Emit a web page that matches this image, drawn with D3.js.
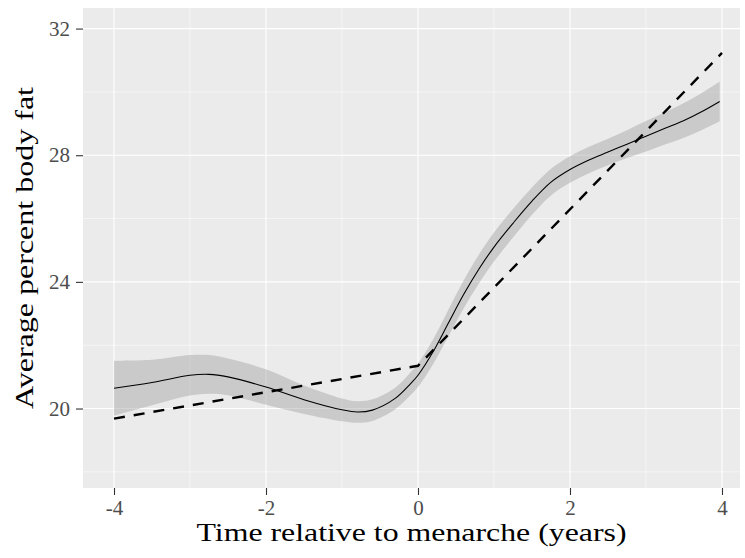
<!DOCTYPE html>
<html>
<head>
<meta charset="utf-8">
<script src="https://cdn.jsdelivr.net/npm/d3@7"></script>
<style>
  html, body { margin: 0; padding: 0; background: #fff; }
  svg { display: block; }
</style>
</head>
<body>
<svg id="chart" width="745" height="558"></svg>
<script>
// ---- data ----
const smoothT   = [-4, -3.5, -3, -2.75, -2.5, -2, -1.5, -1.0, -0.8, -0.6, -0.3, -0.1, 0, 0.2, 0.4, 0.6, 0.8, 1.0, 1.25, 1.5, 1.75, 2.0, 2.25, 2.5, 2.75, 3.0, 3.25, 3.5, 3.75, 3.97];
const smoothFit = [20.64, 20.82, 21.05, 21.08, 21.0, 20.68, 20.28, 19.96, 19.89, 19.95, 20.32, 20.78, 21.05, 21.8, 22.7, 23.6, 24.4, 25.1, 25.85, 26.55, 27.15, 27.55, 27.85, 28.1, 28.35, 28.6, 28.85, 29.1, 29.4, 29.7];
const halfWidth = [0.87, 0.72, 0.64, 0.61, 0.58, 0.56, 0.45, 0.36, 0.34, 0.34, 0.34, 0.36, 0.37, 0.39, 0.42, 0.44, 0.46, 0.46, 0.45, 0.43, 0.42, 0.42, 0.42, 0.42, 0.44, 0.48, 0.51, 0.55, 0.59, 0.63];
const pieceT    = [-4, 0, 4];
const pieceFit  = [19.68, 21.35, 31.23];
const xTicks    = [-4, -2, 0, 2, 4];
const xMinor    = [-3, -1, 1, 3];
const yTicks    = [20, 24, 28, 32];
const yMinor    = [18, 22, 26, 30];
const xTitle    = "Time relative to menarche (years)";
const yTitle    = "Average percent body fat";

// ---- layout ----
const svg = d3.select("#chart");
const P = { left: 83, right: 740, top: 8, bottom: 488 };
const x = d3.scaleLinear().domain([-4.408, 4.237]).range([P.left, P.right]);
const y = d3.scaleLinear().domain([17.49, 32.65]).range([P.bottom, P.top]);
const FONT = "'Liberation Serif', 'DejaVu Serif', serif";

svg.append("rect").attr("x", P.left).attr("y", P.top)
  .attr("width", P.right - P.left).attr("height", P.bottom - P.top)
  .attr("fill", "#EBEBEB");

const grid = svg.append("g");
grid.selectAll(".xmin").data(xMinor).join("line")
  .attr("x1", d => x(d)).attr("x2", d => x(d)).attr("y1", P.top).attr("y2", P.bottom)
  .attr("stroke", "#fff").attr("stroke-width", 0.55);
grid.selectAll(".ymin").data(yMinor).join("line")
  .attr("y1", d => y(d)).attr("y2", d => y(d)).attr("x1", P.left).attr("x2", P.right)
  .attr("stroke", "#fff").attr("stroke-width", 0.55);
grid.selectAll(".xmaj").data(xTicks).join("line")
  .attr("x1", d => x(d)).attr("x2", d => x(d)).attr("y1", P.top).attr("y2", P.bottom)
  .attr("stroke", "#fff").attr("stroke-width", 1.1);
grid.selectAll(".ymaj").data(yTicks).join("line")
  .attr("y1", d => y(d)).attr("y2", d => y(d)).attr("x1", P.left).attr("x2", P.right)
  .attr("stroke", "#fff").attr("stroke-width", 1.1);

// ribbon
const rows = smoothT.map((t, i) => ({ t, f: smoothFit[i], lo: smoothFit[i] - halfWidth[i], hi: smoothFit[i] + halfWidth[i] }));
svg.append("path").datum(rows)
  .attr("d", d3.area().x(d => x(d.t)).y0(d => y(d.lo)).y1(d => y(d.hi)).curve(d3.curveCatmullRom.alpha(0.5)))
  .attr("fill", "#999999").attr("fill-opacity", 0.4);

// smooth fit
svg.append("path").datum(rows)
  .attr("d", d3.line().x(d => x(d.t)).y(d => y(d.f)).curve(d3.curveCatmullRom.alpha(0.5)))
  .attr("fill", "none").attr("stroke", "#000").attr("stroke-width", 1.1);

// piecewise linear dashed
const piece = pieceT.map((t, i) => ({ t, f: pieceFit[i] }));
svg.append("path").datum(piece)
  .attr("d", d3.line().x(d => x(d.t)).y(d => y(d.f)))
  .attr("fill", "none").attr("stroke", "#000").attr("stroke-width", 2.4)
  .attr("stroke-dasharray", "11,9");

// axes
const xAxis = svg.append("g").attr("transform", `translate(0,${P.bottom})`)
  .call(d3.axisBottom(x).tickValues(xTicks).tickSize(7).tickPadding(5).tickFormat(d3.format("d")));
const yAxis = svg.append("g").attr("transform", `translate(${P.left},0)`)
  .call(d3.axisLeft(y).tickValues(yTicks).tickSize(7).tickPadding(6).tickFormat(d3.format("d")));
[xAxis, yAxis].forEach(a => {
  a.select(".domain").remove();
  a.selectAll(".tick line").attr("stroke", "#333333").attr("stroke-width", 1.1);
  a.selectAll(".tick text").attr("fill", "#4D4D4D").style("font-family", FONT).style("font-size", "21px");
});
xAxis.selectAll(".tick text").text(d => d < 0 ? "-" + Math.abs(d) : d);

// titles
svg.append("text").attr("x", (P.left + P.right) / 2).attr("y", 541)
  .attr("text-anchor", "middle").attr("fill", "#000")
  .style("font-family", FONT).style("font-size", "26px")
  .attr("textLength", 430).attr("lengthAdjust", "spacingAndGlyphs")
  .text(xTitle);
svg.append("text").attr("transform", `translate(33,${(P.top + P.bottom) / 2}) rotate(-90)`)
  .attr("text-anchor", "middle").attr("fill", "#000")
  .style("font-family", FONT).style("font-size", "26px")
  .attr("textLength", 322).attr("lengthAdjust", "spacingAndGlyphs")
  .text(yTitle);
</script>
</body>
</html>
